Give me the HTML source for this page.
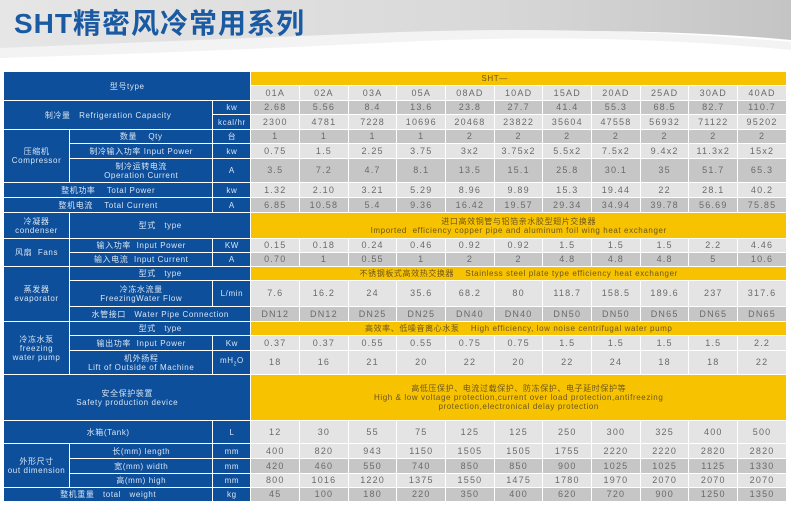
<!DOCTYPE html>
<html><head><meta charset="utf-8">
<style>
body{margin:0;width:791px;height:506px;background:#fff;position:relative;overflow:hidden;font-family:"Liberation Sans","Noto Sans CJK SC",sans-serif}
.title{position:absolute;left:14px;top:2px;font-size:28px;font-weight:bold;color:#1a5aa3;letter-spacing:1px;font-family:"Liberation Sans","Noto Sans CJK SC",sans-serif}
table{position:absolute;left:3px;top:71px;border-collapse:separate;border-spacing:1px;table-layout:fixed;width:784px;background:#fff}
td{padding:0;text-align:center;font-size:8px;line-height:9px;overflow:hidden;white-space:nowrap;letter-spacing:0.6px}
td.b{background:#0d4f9b;color:#d8e4f2}
td.y{background:#f7c300;color:#6b5520}
td.l{background:#e4e4e4;color:#6a6a6a;font-size:9px;letter-spacing:1.2px}
td.d{background:#c6c6c6;color:#6a6a6a;font-size:9px;letter-spacing:1.2px}
</style></head><body>
<svg width="791" height="72" style="position:absolute;left:0;top:0">
<defs><linearGradient id="g" x1="0" x2="1"><stop offset="0" stop-color="#e6e6e6"/><stop offset="0.6" stop-color="#d9d9d9"/><stop offset="1" stop-color="#c4c4c4"/></linearGradient></defs>
<rect x="0" y="0" width="791" height="72" fill="#fff"/>
<path d="M0 0 H791 V40 Q600 22 300 40 Q120 52 0 58 Z" fill="url(#g)"/>
<path d="M0 48 Q200 40 400 32 Q600 25 791 42 V50 Q600 32 400 42 Q200 52 0 58Z" fill="#f3f3f3"/>
</svg>
<div class="title">SHT精密风冷常用系列</div>
<table>
<colgroup><col style="width:65px"><col style="width:142px"><col style="width:37px"><col span="11" style="width:47.6px"></colgroup>
<tr style="height:13px"><td class="b" colspan="3" rowspan="2">型号type</td><td class="y" colspan="11" style="text-align:left;padding-left:230px">SHT—</td></tr>
<tr style="height:14px"><td class="l">01A</td><td class="l">02A</td><td class="l">03A</td><td class="l">05A</td><td class="l">08AD</td><td class="l">10AD</td><td class="l">15AD</td><td class="l">20AD</td><td class="l">25AD</td><td class="l">30AD</td><td class="l">40AD</td></tr>
<tr style="height:13px"><td class="b" colspan="2" rowspan="2">制冷量&nbsp;&nbsp; Refrigeration Capacity</td><td class="b">kw</td><td class="d">2.68</td><td class="d">5.56</td><td class="d">8.4</td><td class="d">13.6</td><td class="d">23.8</td><td class="d">27.7</td><td class="d">41.4</td><td class="d">55.3</td><td class="d">68.5</td><td class="d">82.7</td><td class="d">110.7</td></tr>
<tr style="height:14px"><td class="b">kcal/hr</td><td class="l">2300</td><td class="l">4781</td><td class="l">7228</td><td class="l">10696</td><td class="l">20468</td><td class="l">23822</td><td class="l">35604</td><td class="l">47558</td><td class="l">56932</td><td class="l">71122</td><td class="l">95202</td></tr>
<tr style="height:13px"><td class="b" rowspan="3">压缩机<br>Compressor</td><td class="b">数量&nbsp;&nbsp;&nbsp; Qty</td><td class="b">台</td><td class="d">1</td><td class="d">1</td><td class="d">1</td><td class="d">1</td><td class="d">2</td><td class="d">2</td><td class="d">2</td><td class="d">2</td><td class="d">2</td><td class="d">2</td><td class="d">2</td></tr>
<tr style="height:14px"><td class="b">制冷输入功率 Input Power</td><td class="b">kw</td><td class="l">0.75</td><td class="l">1.5</td><td class="l">2.25</td><td class="l">3.75</td><td class="l">3x2</td><td class="l">3.75x2</td><td class="l">5.5x2</td><td class="l">7.5x2</td><td class="l">9.4x2</td><td class="l">11.3x2</td><td class="l">15x2</td></tr>
<tr style="height:23px"><td class="b">制冷运转电流<br>Operation Current</td><td class="b">A</td><td class="d">3.5</td><td class="d">7.2</td><td class="d">4.7</td><td class="d">8.1</td><td class="d">13.5</td><td class="d">15.1</td><td class="d">25.8</td><td class="d">30.1</td><td class="d">35</td><td class="d">51.7</td><td class="d">65.3</td></tr>
<tr style="height:14px"><td class="b" colspan="2">整机功率&nbsp;&nbsp;&nbsp; Total Power</td><td class="b">kw</td><td class="l">1.32</td><td class="l">2.10</td><td class="l">3.21</td><td class="l">5.29</td><td class="l">8.96</td><td class="l">9.89</td><td class="l">15.3</td><td class="l">19.44</td><td class="l">22</td><td class="l">28.1</td><td class="l">40.2</td></tr>
<tr style="height:14px"><td class="b" colspan="2">整机电流&nbsp;&nbsp;&nbsp; Total Current</td><td class="b">A</td><td class="d">6.85</td><td class="d">10.58</td><td class="d">5.4</td><td class="d">9.36</td><td class="d">16.42</td><td class="d">19.57</td><td class="d">29.34</td><td class="d">34.94</td><td class="d">39.78</td><td class="d">56.69</td><td class="d">75.85</td></tr>
<tr style="height:25px"><td class="b">冷凝器<br>condenser</td><td class="b" colspan="2">型式&nbsp;&nbsp; type</td><td class="y" colspan="11">进口高效铜管与铝箔亲水胶型翅片交换器<br>Imported&nbsp; efficiency copper pipe and aluminum foil wing heat exchanger</td></tr>
<tr style="height:13px"><td class="b" rowspan="2">风扇&nbsp; Fans</td><td class="b">输入功率&nbsp; Input Power</td><td class="b">KW</td><td class="l">0.15</td><td class="l">0.18</td><td class="l">0.24</td><td class="l">0.46</td><td class="l">0.92</td><td class="l">0.92</td><td class="l">1.5</td><td class="l">1.5</td><td class="l">1.5</td><td class="l">2.2</td><td class="l">4.46</td></tr>
<tr style="height:13px"><td class="b">输入电流&nbsp; Input Current</td><td class="b">A</td><td class="d">0.70</td><td class="d">1</td><td class="d">0.55</td><td class="d">1</td><td class="d">2</td><td class="d">2</td><td class="d">4.8</td><td class="d">4.8</td><td class="d">4.8</td><td class="d">5</td><td class="d">10.6</td></tr>
<tr style="height:13px"><td class="b" rowspan="3">蒸发器<br>evaporator</td><td class="b" colspan="2">型式&nbsp;&nbsp; type</td><td class="y" colspan="11">不锈钢板式高效热交换器&nbsp;&nbsp;&nbsp; Stainless steel plate type efficiency heat exchanger</td></tr>
<tr style="height:25px"><td class="b">冷冻水流量<br>FreezingWater Flow</td><td class="b">L/min</td><td class="l">7.6</td><td class="l">16.2</td><td class="l">24</td><td class="l">35.6</td><td class="l">68.2</td><td class="l">80</td><td class="l">118.7</td><td class="l">158.5</td><td class="l">189.6</td><td class="l">237</td><td class="l">317.6</td></tr>
<tr style="height:14px"><td class="b" colspan="2">水管接口&nbsp;&nbsp; Water Pipe Connection</td><td class="d">DN12</td><td class="d">DN12</td><td class="d">DN25</td><td class="d">DN25</td><td class="d">DN40</td><td class="d">DN40</td><td class="d">DN50</td><td class="d">DN50</td><td class="d">DN65</td><td class="d">DN65</td><td class="d">DN65</td></tr>
<tr style="height:13px"><td class="b" rowspan="3">冷冻水泵<br>freezing<br>water pump</td><td class="b" colspan="2">型式&nbsp;&nbsp; type</td><td class="y" colspan="11">高效率、低噪音离心水泵&nbsp;&nbsp;&nbsp; High efficiency, low noise centrifugal water pump</td></tr>
<tr style="height:14px"><td class="b">输出功率&nbsp; Input Power</td><td class="b">Kw</td><td class="l">0.37</td><td class="l">0.37</td><td class="l">0.55</td><td class="l">0.55</td><td class="l">0.75</td><td class="l">0.75</td><td class="l">1.5</td><td class="l">1.5</td><td class="l">1.5</td><td class="l">1.5</td><td class="l">2.2</td></tr>
<tr style="height:23px"><td class="b">机外扬程<br>Lift of Outside of Machine</td><td class="b">mH<sub style="font-size:5px">2</sub>O</td><td class="l">18</td><td class="l">16</td><td class="l">21</td><td class="l">20</td><td class="l">22</td><td class="l">20</td><td class="l">22</td><td class="l">24</td><td class="l">18</td><td class="l">18</td><td class="l">22</td></tr>
<tr style="height:45px"><td class="b" colspan="3">安全保护装置<br>Safety production device</td><td class="y" colspan="11">高低压保护、电流过载保护、防冻保护、电子延时保护等<br>High &amp; low voltage protection,current over load protection,antifreezing<br>protection,electronical delay protection</td></tr>
<tr style="height:22px"><td class="b" colspan="2">水箱(Tank)</td><td class="b">L</td><td class="l">12</td><td class="l">30</td><td class="l">55</td><td class="l">75</td><td class="l">125</td><td class="l">125</td><td class="l">250</td><td class="l">300</td><td class="l">325</td><td class="l">400</td><td class="l">500</td></tr>
<tr style="height:14px"><td class="b" rowspan="3">外形尺寸<br>out dimension</td><td class="b">长(mm) length</td><td class="b">mm</td><td class="l">400</td><td class="l">820</td><td class="l">943</td><td class="l">1150</td><td class="l">1505</td><td class="l">1505</td><td class="l">1755</td><td class="l">2220</td><td class="l">2220</td><td class="l">2820</td><td class="l">2820</td></tr>
<tr style="height:14px"><td class="b">宽(mm) width</td><td class="b">mm</td><td class="d">420</td><td class="d">460</td><td class="d">550</td><td class="d">740</td><td class="d">850</td><td class="d">850</td><td class="d">900</td><td class="d">1025</td><td class="d">1025</td><td class="d">1125</td><td class="d">1330</td></tr>
<tr style="height:13px"><td class="b">高(mm) high</td><td class="b">mm</td><td class="l">800</td><td class="l">1016</td><td class="l">1220</td><td class="l">1375</td><td class="l">1550</td><td class="l">1475</td><td class="l">1780</td><td class="l">1970</td><td class="l">2070</td><td class="l">2070</td><td class="l">2070</td></tr>
<tr style="height:13px"><td class="b" colspan="2">整机重量&nbsp;&nbsp; total&nbsp;&nbsp; weight</td><td class="b">kg</td><td class="d">45</td><td class="d">100</td><td class="d">180</td><td class="d">220</td><td class="d">350</td><td class="d">400</td><td class="d">620</td><td class="d">720</td><td class="d">900</td><td class="d">1250</td><td class="d">1350</td></tr>
</table>
</body></html>
